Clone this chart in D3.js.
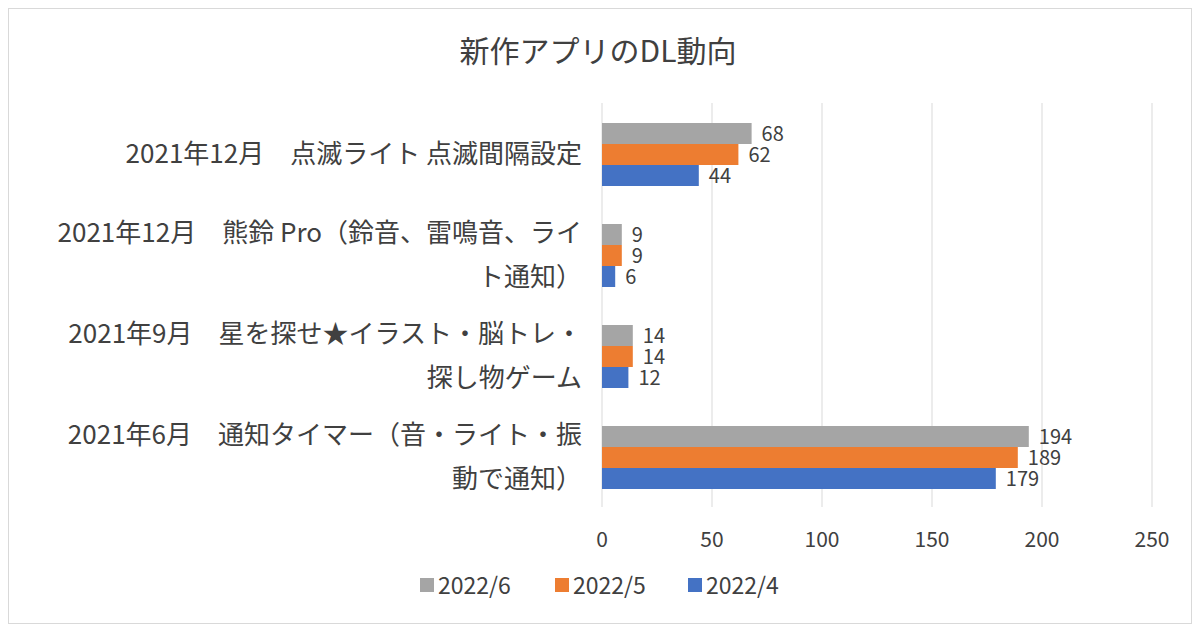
<!DOCTYPE html>
<html><head><meta charset="utf-8">
<script src="https://cdn.jsdelivr.net/npm/d3@7"></script>
<style>body{margin:0;background:#fff}text{font-family:"Noto Sans CJK JP","Noto Sans",sans-serif;fill:#404040}</style>
</head><body><svg id="c" width="1200" height="632"></svg>
<script>
// data
var categories = [
  ["2021年12月　点滅ライト 点滅間隔設定"],
  ["2021年12月　熊鈴 Pro（鈴音、雷鳴音、ライ", "ト通知）"],
  ["2021年9月　星を探せ★イラスト・脳トレ・", "探し物ゲーム"],
  ["2021年6月　通知タイマー（音・ライト・振", "動で通知）"]
];
var seriesNames = ["2022/6", "2022/5", "2022/4"];
var seriesColors = ["#A5A5A5", "#ED7D31", "#4472C4"];
var values = [
  [68, 9, 14, 194],
  [62, 9, 14, 189],
  [44, 6, 12, 179]
];
var xTicks = [0, 50, 100, 150, 200, 250];

var svg = d3.select("#c");
svg.append("rect").attr("x", 8.5).attr("y", 8.5).attr("width", 1183).attr("height", 615)
  .attr("fill", "#fff").attr("stroke", "#d9d9d9");

svg.append("text").attr("x", 598).attr("y", 62).attr("text-anchor", "middle")
  .attr("font-size", 30).text("新作アプリのDL動向");

var x = d3.scaleLinear().domain([0, 250]).range([602, 1152]);
var y = d3.scaleBand().domain(d3.range(categories.length)).range([103, 507]);
var inner = d3.scaleBand().domain(d3.range(3)).range([20, 83]);

svg.selectAll(".grid").data(xTicks).enter().append("line")
  .attr("x1", d => x(d)).attr("x2", d => x(d)).attr("y1", 103).attr("y2", 507)
  .attr("stroke", "#d9d9d9");

svg.selectAll(".xl").data(xTicks).enter().append("text")
  .attr("x", d => x(d)).attr("y", 547).attr("text-anchor", "middle")
  .attr("font-size", 21).text(d => d);

values.forEach(function(vals, s) {
  var g = svg.append("g");
  g.selectAll("rect").data(vals).enter().append("rect")
    .attr("x", x(0)).attr("y", (d, i) => y(i) + inner(s))
    .attr("width", d => x(d) - x(0)).attr("height", inner.bandwidth())
    .attr("fill", seriesColors[s]);
  g.selectAll("text").data(vals).enter().append("text")
    .attr("x", d => x(d) + 10).attr("y", (d, i) => y(i) + inner(s) + inner.bandwidth() / 2 + 7)
    .attr("font-size", 20).text(d => d);
});

categories.forEach(function(lines, i) {
  var cy = y(i) + y.bandwidth() / 2;
  var start = cy - (lines.length - 1) * 22;
  lines.forEach(function(l, j) {
    svg.append("text").attr("x", 582).attr("y", start + j * 44 + 9)
      .attr("text-anchor", "end").attr("font-size", 26)
      .attr("textLength", null).text(l);
  });
});

var leg = svg.append("g");
var lx = [420, 555, 688];
seriesNames.forEach(function(n, s) {
  leg.append("rect").attr("x", lx[s]).attr("y", 578).attr("width", 14).attr("height", 14)
    .attr("fill", seriesColors[s]);
  leg.append("text").attr("x", lx[s] + 18).attr("y", 594).attr("font-size", 23).text(n);
});
</script></body></html>
